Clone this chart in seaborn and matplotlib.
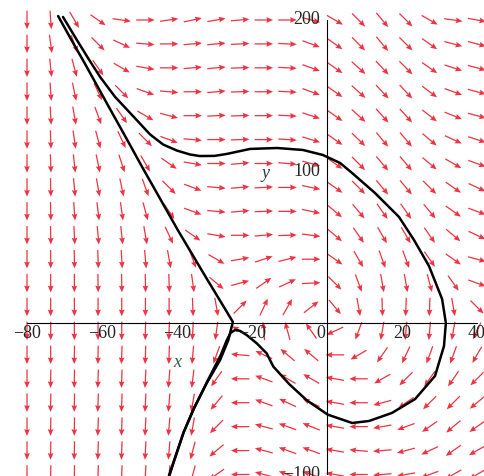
import numpy as np
import pandas as pd
import matplotlib
matplotlib.use("Agg")
import matplotlib.pyplot as plt
import seaborn as sns

sns.set_style("white")
plt.rcParams["font.family"] = ["Liberation Serif", "DejaVu Serif"]

# Direction-field grid (20 x 20 arrows)
grid_x = np.linspace(-80, 40, 20)
grid_y = np.linspace(-100, 200, 20)

# Arrow directions in screen degrees, rows from y=200 (top) down to y=-100
arrow_angle_rows = [
    [-90, -86, -60, -35, -8, 0, 8, 12, 10, 5, 0, 0, -15, -30, -45, -50, -45, -30, -8, -10],
    [-90, -82, -70, -45, -25, -5, 0, 5, 5, 3, 0, -3, -20, -35, -45, -50, -45, -35, -15, -15],
    [-90, -84, -75, -55, -30, -10, 0, 5, 5, 2, 0, -3, -20, -35, -42, -47, -45, -35, -18, -15],
    [-90, -86, -78, -65, -45, -20, -5, 0, 5, 2, 0, -3, -20, -35, -42, -47, -47, -37, -20, -15],
    [-90, -87, -80, -70, -55, -30, -15, 0, 3, 2, 0, -3, -18, -35, -42, -48, -48, -38, -22, -15],
    [-90, -88, -82, -75, -65, -45, -20, -5, 0, 2, 0, -4, -17, -35, -44, -50, -50, -40, -25, -18],
    [-90, -88, -84, -78, -72, -60, -35, -10, 0, 5, 0, -5, -15, -35, -45, -50, -50, -40, -30, -20],
    [-90, -89, -85, -80, -78, -70, -45, -20, -5, 5, 3, 0, -12, -35, -45, -50, -50, -45, -35, -25],
    [-90, -89, -86, -83, -82, -75, -55, -20, -5, 5, 2, 0, -12, -40, -50, -55, -55, -50, -35, -20],
    [-90, -89, -87, -85, -84, -80, -65, -35, -10, 0, 5, 2, -8, -40, -55, -60, -60, -55, -40, -25],
    [-90, -90, -89, -88, -87, -85, -80, -70, -30, 10, 18, 14, 0, -35, -60, -70, -70, -55, -35, -15],
    [-90, -90, -90, -89, -89, -89, -88, -82, -40, 15, 35, 25, 3, -45, -70, -80, -80, -75, -55, -20],
    [-90, -90, -90, -90, -90, -90, -90, -88, -80, 45, 65, 60, 38, -50, -80, -88, -92, -92, -80, -45],
    [-90, -90, -90, -90, -90, -91, -92, -93, -98, 150, 95, 105, 125, -155, -110, -100, -95, -95, -100, -115],
    [-90, -90, -91, -91, -92, -92, -92, -95, -110, 175, 155, 140, 140, 180, -150, -125, -115, -110, -110, -120],
    [-90, -91, -91, -92, -92, -93, -95, -97, -125, 180, 160, 150, 150, 170, 180, -150, -135, -125, -125, -135],
    [-90, -91, -91, -92, -92, -93, -95, -100, -130, 180, 160, 155, 155, 170, 180, -165, -145, -135, -135, -140],
    [-90, -91, -91, -92, -92, -93, -95, -100, -135, 180, 165, 160, 158, 170, 180, -170, -160, -145, -140, -145],
    [-90, -91, -91, -92, -92, -93, -95, -105, -140, 180, 165, 160, 160, 170, 175, -175, -165, -155, -145, -150],
    [-90, -91, -91, -92, -92, -93, -95, -105, -145, 180, 165, 160, 160, 170, 180, -175, -170, -160, -150, -150],
]

# Separatrix through the saddle: incoming branch from the upper left, outgoing branch downward
sep_x = [-71.7, -68.3, -64.4, -59.2, -54.2, -49.3, -44.5, -39.8, -36.1, -32.4, -28.7, -25.1,
         -26.3, -28.5, -32.1, -35.7, -38.3, -41.0, -42.3]
sep_y = [202.6, 187.5, 170.5, 147.2, 125.0, 103.0, 82.0, 61.4, 46.0, 30.6, 15.5, 0.7,
         -11.2, -24.4, -39.8, -57.4, -72.6, -92.4, -102.0]

# Orbit looping clockwise around the centre before leaving past the saddle
orbit_x = [-70.4, -66.7, -63.5, -60.5, -56.5, -51.7, -47.2, -43.7, -40.0, -36.5,
           -33.9, -30.0, -26.7, -20.5, -13.3, -6.4, -1.1, 3.5, 6.7, 12.8,
           19.2, 23.2, 27.2, 30.7, 31.7, 31.2, 28.8, 23.5, 17.3, 11.2,
           6.7, 0.2, -5.4, -10.0, -14.3, -16.1, -18.7, -21.4, -23.2, -24.5,
           -25.7, -26.7, -28.3, -31.6, -35.3, -38.2, -40.9, -42.2]
orbit_y = [202.0, 186.8, 174.0, 162.4, 149.2, 136.5, 124.5, 117.8, 113.8, 111.2,
           110.2, 110.3, 111.6, 114.9, 115.5, 114.2, 110.9, 105.6, 99.0, 85.8,
           70.0, 54.8, 37.6, 15.8, 0.0, -15.2, -35.0, -50.2, -59.4, -64.7,
           -66.0, -60.5, -51.0, -40.5, -28.8, -20.0, -13.5, -8.0, -5.2, -4.6,
           -6.5, -11.2, -21.0, -37.0, -55.5, -72.0, -92.0, -102.0]

x_ticks = [-80, -60, -40, -20, 0, 20, 40]
x_tick_text = ["\u221280", "\u221260", "\u221240", "\u221220", "0", "20", "40"]
y_ticks = [200, 100, -100]
y_tick_text = ["200", "100", "\u2212100"]

fig = plt.figure(figsize=(4.84, 4.76), dpi=100)
ax = fig.add_axes([0, 0, 1, 1])
ax.set_xlim(-87.2, 41.87)
ax.set_ylim(-101.0, 213.2)
ax.axis("off")

# direction field
GX, GY = np.meshgrid(grid_x, grid_y)
ang = np.array(arrow_angle_rows[::-1], dtype=float)
ax.quiver(GX, GY, np.ones_like(GX), np.zeros_like(GY), angles=ang,
          pivot="middle", units="dots", width=1.25, scale_units="dots",
          scale=1 / 18.5, headwidth=4.6, headlength=5.4, headaxislength=4.8,
          color="#ec3442", zorder=2)

# coordinate axes through the origin
ax.plot([-80, 40], [0, 0], color="black", lw=0.8, zorder=3)
ax.plot([0, 0], [-100, 200], color="black", lw=0.8, zorder=3)

# trajectories
for tx, ty in ((sep_x, sep_y), (orbit_x, orbit_y)):
    df = pd.DataFrame({"x": tx, "y": ty})
    sns.lineplot(data=df, x="x", y="y", sort=False, estimator=None,
                 color="black", lw=1.8, ax=ax, zorder=4)

# tick labels
for v, t in zip(x_ticks, x_tick_text):
    xv = -1.6 if v == 0 else v
    ax.text(xv, -1.0, t, ha="center", va="top", fontsize=13, zorder=5)
for v, t in zip(y_ticks, y_tick_text):
    ax.text(-1.9, v, t, ha="right", va="center", fontsize=13, zorder=5)

ax.text(-40.0, -26.0, "x", fontsize=13, style="italic", color="#2f6040",
        ha="center", va="center", zorder=5)
ax.text(-16.3, 98.5, "y", fontsize=13, style="italic", color="#34384a",
        ha="center", va="center", zorder=5)

fig.savefig("out.png", dpi=100)
